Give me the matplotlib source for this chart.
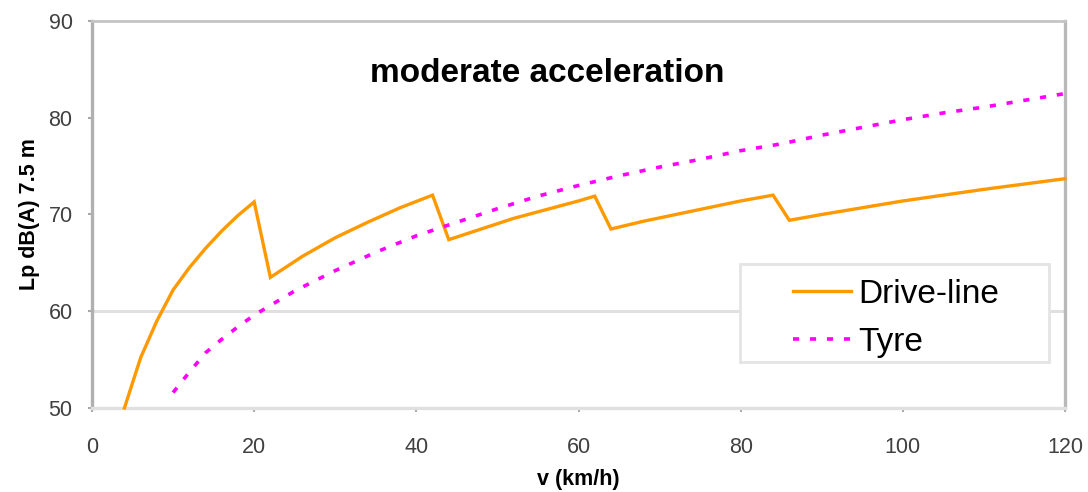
import matplotlib
matplotlib.use("Agg")
import matplotlib.pyplot as plt
from matplotlib.patches import Rectangle

plt.rcParams['font.family'] = ['Liberation Sans', 'DejaVu Sans']

# ---- data ----
drive_v = [4, 6, 8, 10, 12, 14, 16, 18, 20,
           22, 26, 30, 34, 38, 42,
           44, 48, 52, 56, 60, 62,
           64, 68, 72, 76, 80, 84,
           86, 90, 100, 110, 120]
drive_L = [50.0, 55.2, 59.0, 62.2, 64.5, 66.5, 68.3, 69.9, 71.3,
           63.5, 65.7, 67.6, 69.2, 70.7, 72.0,
           67.4, 68.5, 69.6, 70.5, 71.4, 71.9,
           68.5, 69.3, 70.0, 70.7, 71.4, 72.0,
           69.4, 70.0, 71.4, 72.6, 73.7]

tyre_v = [10, 12, 14, 16, 18, 20, 25, 30, 35, 40, 45, 50, 55, 60,
          65, 70, 75, 80, 85, 90, 95, 100, 105, 110, 115, 120]
tyre_L = [51.6, 53.7, 55.7, 57.1, 58.4, 59.6, 62.1, 64.2, 66.1, 67.8,
          69.2, 70.6, 71.9, 73.0, 74.0, 74.9, 75.7, 76.6, 77.3, 78.2,
          79.0, 79.8, 80.5, 81.1, 81.8, 82.5]

x_ticks = [0, 20, 40, 60, 80, 100, 120]
y_ticks = [50, 60, 70, 80, 90]
title = "moderate acceleration"
xlabel = "v (km/h)"
ylabel = "Lp dB(A) 7.5 m"

# ---- figure ----
W, H = 1088, 492
fig = plt.figure(figsize=(W / 100, H / 100), dpi=100)
L_, R_, T_, B_ = 92, 1065, 21, 408
ax = fig.add_axes([L_ / W, 1 - B_ / H, (R_ - L_) / W, (B_ - T_) / H])

ax.set_xlim(0, 120)
ax.set_ylim(50, 90)

ax.axhline(60, color='#e0e0e0', lw=2.2, zorder=1)

ax.plot(drive_v, drive_L, color='#ff9900', lw=2.4, label='Drive-line',
        solid_joinstyle='miter', zorder=3, clip_on=False)
ax.plot(tyre_v, tyre_L, color='#ff00ff', lw=2.6, dashes=(1.7, 3.0),
        label='Tyre', zorder=3)

ax.set_xticks(x_ticks)
ax.set_yticks(y_ticks)
ax.tick_params(axis='both', colors='#a8a8a8', length=3, width=1.5,
               labelsize=15.5, labelcolor='#404040')
ax.tick_params(axis='x', pad=18)
ax.tick_params(axis='y', pad=11)

for side, col, lw in [('left', '#b0b0b0', 2.4), ('right', '#b8b8b8', 2.4),
                      ('top', '#c4c4c4', 2.0), ('bottom', '#e0e0e0', 2.4)]:
    ax.spines[side].set_color(col)
    ax.spines[side].set_linewidth(lw)

ax.set_xlabel(xlabel, fontsize=15.5, fontweight='bold', labelpad=8)
ax.set_ylabel(ylabel, fontsize=15.5, fontweight='bold', labelpad=6)

fig.text(547.5 / W, 1 - 74 / H, title, fontsize=24, fontweight='bold',
         ha='center', va='center')

# legend box
bx0, bx1, by0, by1 = 740, 1049, 264, 362
ax.add_patch(Rectangle(((bx0 - L_) / (R_ - L_), (B_ - by1) / (B_ - T_)),
                       (bx1 - bx0) / (R_ - L_), (by1 - by0) / (B_ - T_),
                       transform=ax.transAxes, facecolor='white',
                       edgecolor='#e4e4e4', lw=2, zorder=4))
leg = ax.legend(loc='upper left',
                bbox_to_anchor=((793 - L_) / (R_ - L_), (B_ - 279) / (B_ - T_)),
                frameon=False, fontsize=24, handlelength=1.75,
                handletextpad=0.22, labelspacing=0.5, borderpad=0,
                borderaxespad=0)
leg.set_zorder(5)

fig.savefig('out.png', dpi=100)
